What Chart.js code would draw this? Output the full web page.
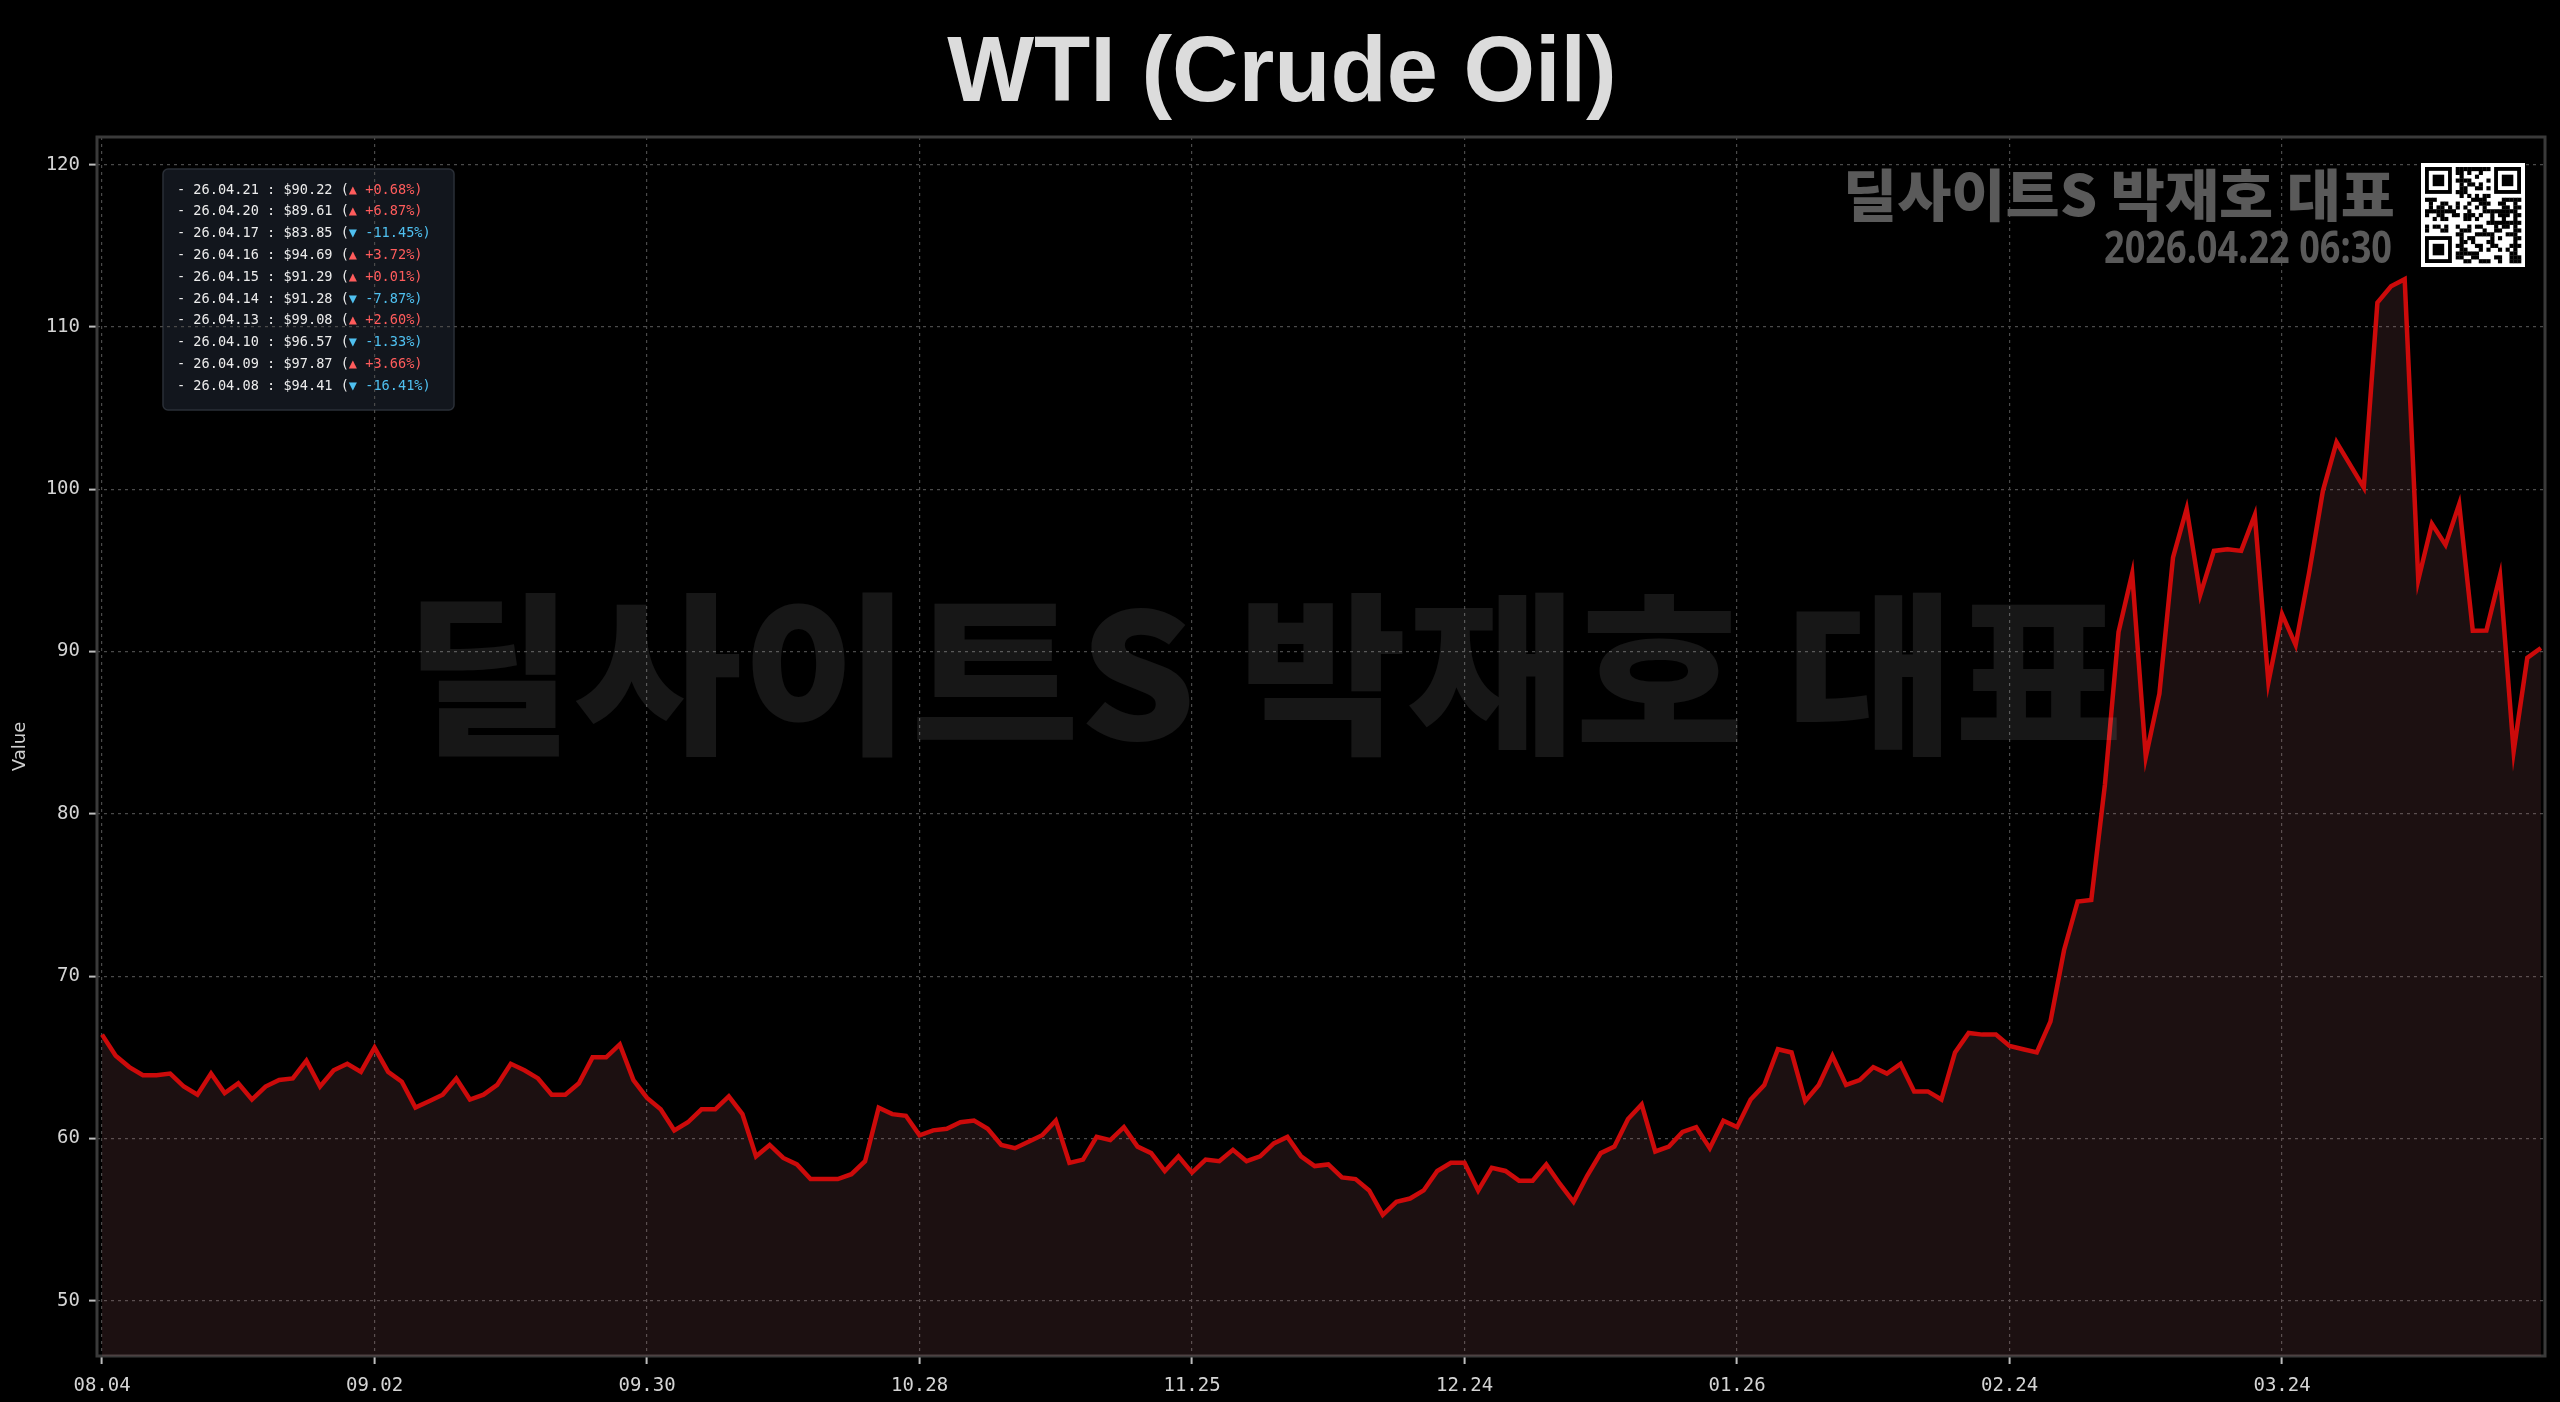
<!DOCTYPE html>
<html>
<head>
<meta charset="utf-8">
<title>WTI (Crude Oil)</title>
<script src="https://cdn.jsdelivr.net/npm/chart.js@4.4.1/dist/chart.umd.min.js"></script>
<style>
  html, body { margin: 0; padding: 0; background: #000; }
  #wrap { width: 2560px; height: 1402px; position: relative; }
</style>
</head>
<body>
<div id="wrap"><canvas id="myChart"></canvas></div>
<script>
// x tick labels, one every 20 trading days starting 2025-08-04
const tickLabels = ["08.04", "09.02", "09.30", "10.28", "11.25", "12.24", "01.26", "02.24", "03.24"];
const tickStep = 20;

// WTI daily close, 2025-08-04 .. 2026-04-21 (180 trading days)
const prices = [
  66.4, 65.1, 64.4, 63.9, 63.9, 64.0, 63.2, 62.7, 64.0, 62.8,
  63.4, 62.4, 63.2, 63.6, 63.7, 64.8, 63.2, 64.2, 64.6, 64.1,
  65.6, 64.1, 63.5, 61.9, 62.3, 62.7, 63.7, 62.4, 62.7, 63.3,
  64.6, 64.2, 63.7, 62.7, 62.7, 63.4, 65.0, 65.0, 65.8, 63.6,
  62.5, 61.8, 60.5, 61.0, 61.8, 61.8, 62.6, 61.5, 58.9, 59.6,
  58.8, 58.4, 57.5, 57.5, 57.5, 57.8, 58.6, 61.9, 61.5, 61.4,
  60.2, 60.5, 60.6, 61.0, 61.1, 60.6, 59.6, 59.4, 59.8, 60.2,
  61.1, 58.5, 58.7, 60.1, 59.9, 60.7, 59.5, 59.1, 58.0, 58.9,
  57.9, 58.7, 58.6, 59.3, 58.6, 58.9, 59.7, 60.1, 58.9, 58.3,
  58.4, 57.6, 57.5, 56.8, 55.3, 56.1, 56.3, 56.8, 58.0, 58.5,
  58.5, 56.8, 58.2, 58.0, 57.4, 57.4, 58.4, 57.2, 56.1, 57.7,
  59.1, 59.5, 61.2, 62.1, 59.2, 59.5, 60.4, 60.7, 59.4, 61.1,
  60.7, 62.4, 63.3, 65.5, 65.3, 62.3, 63.3, 65.1, 63.3, 63.6,
  64.4, 64.0, 64.6, 62.9, 62.9, 62.4, 65.3, 66.5, 66.4, 66.4,
  65.7, 65.5, 65.3, 67.2, 71.6, 74.6, 74.7, 81.8, 91.2, 94.8,
  83.5, 87.4, 95.8, 98.8, 93.5, 96.2, 96.3, 96.2, 98.4, 88.1,
  92.3, 90.4, 94.9, 99.9, 102.9, 101.5, 100.1, 111.5, 112.5, 112.94,
  94.41, 97.87, 96.57, 99.08, 91.28, 91.29, 94.69, 83.85, 89.61, 90.22
];

// dates of the last ten closes, shown in the box at top left
const recentDates = ["26.04.08", "26.04.09", "26.04.10", "26.04.13", "26.04.14",
  "26.04.15", "26.04.16", "26.04.17", "26.04.20", "26.04.21"];

const titleText = "WTI (Crude Oil)";
const brandText = "딜사이트S 박재호 대표";
const stampText = "2026.04.22 06:30";

// draw text squeezed to a given width
function fitText(ctx, text, x, y, width, align) {
  const w = ctx.measureText(text).width;
  const sx = width / w;
  ctx.save();
  ctx.translate(x, y);
  ctx.scale(sx, 1);
  ctx.textAlign = align;
  ctx.fillText(text, 0, 0);
  ctx.restore();
}

const legendBoxPlugin = {
  id: "legendBox",
  beforeDraw(chart) {
    const ctx = chart.ctx;
    ctx.save();
    ctx.beginPath();
    ctx.roundRect(163, 169, 291, 241, 5);
    ctx.fillStyle = "#12161d";
    ctx.fill();
    ctx.strokeStyle = "#2a2f37";
    ctx.lineWidth = 1.5;
    ctx.stroke();
    ctx.restore();
  },
  afterDraw(chart) {
    const ctx = chart.ctx;
    ctx.save();
    ctx.font = '13.6px "DejaVu Sans Mono"';
    ctx.textBaseline = "middle";
    ctx.textAlign = "left";
    const n = prices.length;
    for (let k = 0; k < recentDates.length; k++) {
      const idx = n - 1 - k;
      const price = prices[idx];
      const pct = (price / prices[idx - 1] - 1) * 100;
      const up = pct >= 0;
      const head = "- " + recentDates[recentDates.length - 1 - k] + " : $" + price.toFixed(2) + " (";
      const tail = (up ? "▲ +" : "▼ ") + pct.toFixed(2) + "%)";
      const y = 190 + k * 21.8;
      ctx.fillStyle = "#ececec";
      ctx.fillText(head, 177, y);
      const w = ctx.measureText(head).width;
      ctx.fillStyle = up ? "#ff5c5c" : "#4fc0f0";
      ctx.fillText(tail, 177 + w, y);
    }
    ctx.restore();
  }
};

const decorPlugin = {
  id: "decor",
  beforeDatasetsDraw(chart) {
    const ctx = chart.ctx;
    const a = chart.chartArea;
    ctx.save();
    ctx.strokeStyle = "#3a3a3a";
    ctx.lineWidth = 3;
    ctx.strokeRect(a.left, a.top, a.right - a.left, a.bottom - a.top);
    ctx.restore();
  },
  afterDatasetsDraw(chart) {
    const ctx = chart.ctx;
    ctx.save();
    // big faint watermark
    ctx.fillStyle = "rgba(255,255,255,0.09)";
    ctx.font = '900 174px "Noto Sans CJK KR"';
    ctx.textBaseline = "alphabetic";
    fitText(ctx, brandText, 405, 740, 1718, "left");
    ctx.restore();
  },
  afterDraw(chart) {
    const ctx = chart.ctx;
    ctx.save();
    // title
    ctx.fillStyle = "#dcdcdc";
    ctx.font = 'bold 92px "Liberation Sans"';
    ctx.textAlign = "center";
    ctx.textBaseline = "alphabetic";
    ctx.fillText(titleText, chart.width / 2 + 2, 101);

    // brand + stamp at top right
    ctx.fillStyle = "#5a5a5a";
    ctx.font = '900 56px "Noto Sans CJK KR"';
    fitText(ctx, brandText, 2395, 216, 552, "right");
    ctx.font = 'bold 44px "Noto Sans"';
    fitText(ctx, stampText, 2392, 263, 288, "right");

    // QR-style badge
    const qx = 2421, qy = 163, qs = 104;
    ctx.fillStyle = "#fff";
    ctx.fillRect(qx, qy, qs, qs);
    const mods = 25, m = (qs - 8) / mods;
    ctx.fillStyle = "#000";
    const finder = (r0, c0) => {
      ctx.fillRect(qx + 4 + c0 * m, qy + 4 + r0 * m, 7 * m, 7 * m);
      ctx.fillStyle = "#fff";
      ctx.fillRect(qx + 4 + (c0 + 1) * m, qy + 4 + (r0 + 1) * m, 5 * m, 5 * m);
      ctx.fillStyle = "#000";
      ctx.fillRect(qx + 4 + (c0 + 2) * m, qy + 4 + (r0 + 2) * m, 3 * m, 3 * m);
    };
    for (let r = 0; r < mods; r++) {
      for (let c = 0; c < mods; c++) {
        const inFinder = (r < 8 && c < 8) || (r < 8 && c > mods - 9) || (r > mods - 9 && c < 8);
        if (inFinder) continue;
        const h = (r * 31 + c * 17 + r * c * 7 + ((r ^ c) * 5)) % 11;
        if (h < 5) ctx.fillRect(qx + 4 + c * m, qy + 4 + r * m, m + 0.3, m + 0.3);
      }
    }
    finder(0, 0);
    finder(0, mods - 7);
    finder(mods - 7, 0);
    ctx.restore();
  }
};

const ctx = document.getElementById("myChart");
const myChart = new Chart(ctx, {
  type: "line",
  data: {
    datasets: [
      {
        label: "WTI",
        data: prices.map((v, i) => ({ x: i, y: v })),
        borderColor: "#cc0a0a",
        backgroundColor: "rgba(190, 110, 115, 0.15)",
        borderWidth: 4.5,
        pointRadius: 0,
        tension: 0,
        fill: "start",
      },
    ],
  },
  options: {
    responsive: true,
    maintainAspectRatio: false,
    animation: false,
    layout: { padding: { top: 137, right: 15, left: 0, bottom: 0 } },
    plugins: {
      legend: { display: false },
      title: { display: false },
      tooltip: { enabled: false },
    },
    scales: {
      x: {
        type: "linear",
        min: -0.37,
        max: 179.3,
        afterBuildTicks: (scale) => {
          scale.ticks = tickLabels.map((_, k) => ({ value: k * tickStep }));
        },
        afterFit: (scale) => { scale.height = 46; },
        ticks: {
          autoSkip: false,
          maxRotation: 0,
          padding: 11,
          color: "#d4d4d4",
          font: { family: "DejaVu Sans Mono", size: 19 },
          callback: (value) => tickLabels[Math.round(value / tickStep)] ?? "",
        },
        grid: { color: "#4a4a4a", lineWidth: 1.2, tickLength: 8, tickColor: "#bdbdbd", tickWidth: 2 },
        border: { display: false, dash: [3, 4] },
      },
      y: {
        min: 46.6,
        max: 121.7,
        afterFit: (scale) => { scale.width = 97; },
        ticks: {
          stepSize: 10,
          includeBounds: false,
          padding: 9,
          color: "#d4d4d4",
          font: { family: "DejaVu Sans Mono", size: 19 },
        },
        title: {
          display: true,
          text: "Value",
          color: "#cfcfcf",
          font: { family: "DejaVu Sans", size: 18 },
          padding: { top: 10, bottom: 0 },
        },
        grid: { color: "#4a4a4a", lineWidth: 1.2, tickLength: 8, tickColor: "#bdbdbd", tickWidth: 2 },
        border: { display: false, dash: [3, 4] },
      },
    },
  },
  plugins: [legendBoxPlugin, decorPlugin],
});
</script>
</body>
</html>
